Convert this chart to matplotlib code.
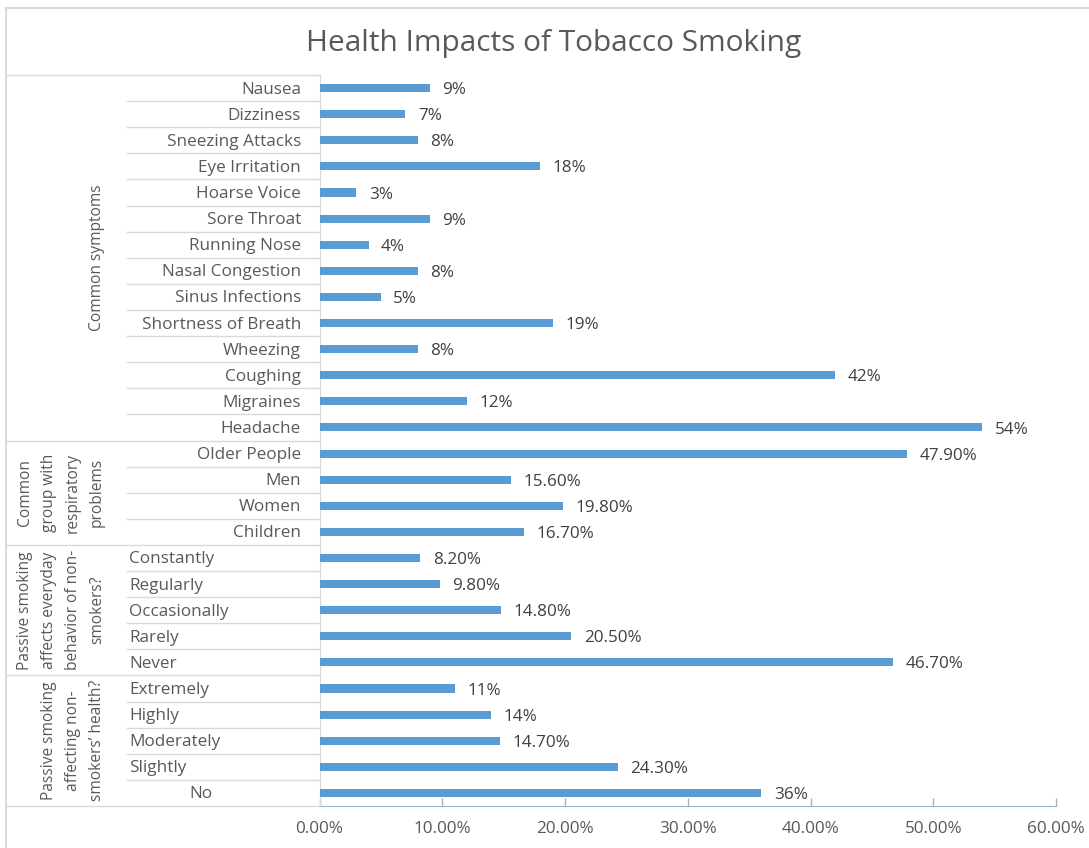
import matplotlib
matplotlib.use("Agg")
import matplotlib.pyplot as plt
from matplotlib.lines import Line2D
from matplotlib.ticker import FuncFormatter

plt.rcParams['font.family'] = ['Open Sans', 'DejaVu Sans']

# ---------------- data ----------------
group_names = [
    "Common symptoms",
    "Common\ngroup with\nrespiratory\nproblems",
    "Passive smoking\naffects everyday\nbehavior of non-\nsmokers?",
    "Passive smoking\naffecting non-\nsmokers\u2019 health?",
]
symptom_cats = ["Nausea", "Dizziness", "Sneezing Attacks", "Eye Irritation", "Hoarse Voice",
                "Sore Throat", "Running Nose", "Nasal Congestion", "Sinus Infections",
                "Shortness of Breath", "Wheezing", "Coughing", "Migraines", "Headache"]
symptom_vals = [9, 7, 8, 18, 3, 9, 4, 8, 5, 19, 8, 42, 12, 54]
symptom_lbls = ["9%", "7%", "8%", "18%", "3%", "9%", "4%", "8%", "5%", "19%", "8%", "42%", "12%", "54%"]

group_cats = ["Older People", "Men", "Women", "Children"]
group_vals = [47.9, 15.6, 19.8, 16.7]
group_lbls = ["47.90%", "15.60%", "19.80%", "16.70%"]

everyday_cats = ["Constantly", "Regularly", "Occasionally", "Rarely", "Never"]
everyday_vals = [8.2, 9.8, 14.8, 20.5, 46.7]
everyday_lbls = ["8.20%", "9.80%", "14.80%", "20.50%", "46.70%"]

health_cats = ["Extremely", "Highly", "Moderately", "Slightly", "No"]
health_vals = [11, 14, 14.7, 24.3, 36]
health_lbls = ["11%", "14%", "14.70%", "24.30%", "36%"]

x_ticks = [0, 10, 20, 30, 40, 50, 60]
title = "Health Impacts of Tobacco Smoking"

# ---------------- layout ----------------
W, H = 1089, 848
fig = plt.figure(figsize=(W / 100, H / 100), dpi=100)
fig.patch.set_facecolor("white")

x0_px, x1_px = 319.5, 1056
top_px, bot_px = 75, 806
ax = fig.add_axes([x0_px / W, 1 - bot_px / H, (x1_px - x0_px) / W, (bot_px - top_px) / H])

groups = [
    (symptom_cats, symptom_vals, symptom_lbls, "right"),
    (group_cats, group_vals, group_lbls, "right"),
    (everyday_cats, everyday_vals, everyday_lbls, "left"),
    (health_cats, health_vals, health_lbls, "left"),
]

cats, vals, lbls, aligns, gidx = [], [], [], [], []
for gi, (c, v, l, a) in enumerate(groups):
    cats += c
    vals += v
    lbls += l
    aligns += [a] * len(c)
    gidx += [gi] * len(c)

n = len(cats)
ypos = list(range(n))
bar_color = "#5B9BD5"
ax.barh(ypos, [v / 100 for v in vals], height=0.31, color=bar_color, zorder=3)
ax.set_ylim(n - 0.5, -0.5)
ax.set_xlim(0, 0.6)

fs = 12.3
for y, v, l in zip(ypos, vals, lbls):
    ax.annotate(l, (v / 100, y), xytext=(9, -1.5), textcoords="offset points",
                ha="left", va="center", fontsize=fs, color="#404040")

ax.set_xticks([t / 100 for t in x_ticks])
ax.xaxis.set_major_formatter(FuncFormatter(lambda x, p: f"{x * 100:.2f}%"))
ax.tick_params(axis="x", direction="in", length=6, width=1, color="#9FB3C8",
               labelsize=fs, labelcolor="#595959", pad=11)
ax.set_yticks([])
for s in ["top", "right"]:
    ax.spines[s].set_visible(False)
ax.spines["bottom"].set_color("#9FB3C8")
ax.spines["left"].set_color("#D9D9D9")

# ---------------- category axis (drawn in figure pixels) ----------------
def fy(py):
    return 1 - py / H

def fx(px):
    return px / W

row_h = (bot_px - top_px) / n
sep_col = "#D9D9D9"
lab_col = "#595959"

# chart border (left, top)
fig.add_artist(Line2D([fx(6), fx(6)], [fy(8), fy(848)], color=sep_col, lw=1.5))
fig.add_artist(Line2D([fx(6), fx(1089)], [fy(8), fy(8)], color=sep_col, lw=1.5))

# top and bottom of category area
for py in (top_px, bot_px):
    fig.add_artist(Line2D([fx(6), fx(x0_px)], [fy(py), fy(py)], color=sep_col, lw=1))

for i in range(1, n):
    py = top_px + i * row_h
    start = 6 if gidx[i] != gidx[i - 1] else 127
    fig.add_artist(Line2D([fx(start), fx(x0_px)], [fy(py), fy(py)], color=sep_col, lw=1))

for i, (c, a) in enumerate(zip(cats, aligns)):
    py = top_px + (i + 0.5) * row_h + 1.5
    if c == "No":
        fig.text(fx(201), fy(py), c, ha="center", va="center", fontsize=fs, color=lab_col)
    elif a == "right":
        fig.text(fx(301), fy(py), c, ha="right", va="center", fontsize=fs, color=lab_col)
    else:
        fig.text(fx(129), fy(py), c, ha="left", va="center", fontsize=fs, color=lab_col)

start = 0
for gi, name in enumerate(group_names):
    cnt = gidx.count(gi)
    py = top_px + (start + cnt / 2) * row_h
    fig.text(fx(105), fy(py), name, rotation=90, ha="right", va="center",
             multialignment="center", fontsize=11.2, color=lab_col, linespacing=1.68)
    start += cnt

fig.text(fx(554), fy(44), title, ha="center", va="center", fontsize=21.5, color="#595959")

fig.savefig("out.png", dpi=100, facecolor="white")
